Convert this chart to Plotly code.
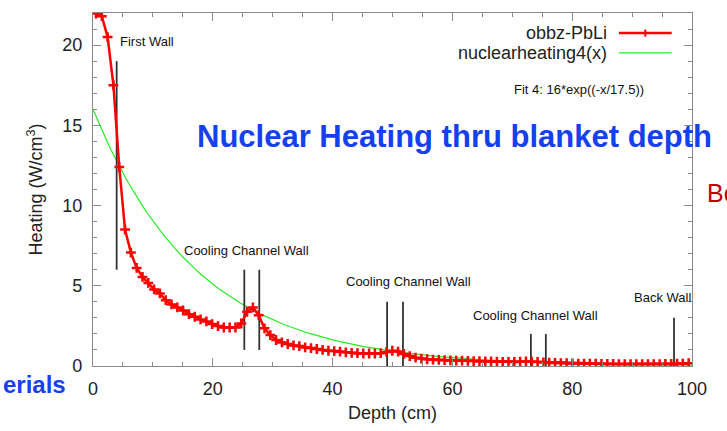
import plotly.graph_objects as go
import math

# ---- data ----
depth_cm = [0.50, 1.47, 2.44, 3.41, 4.38, 5.35, 6.32, 7.29, 8.26, 9.23,
            10.20, 11.17, 12.14, 13.11, 14.08, 15.05, 16.02, 16.99, 17.96, 18.93,
            19.90, 20.87, 21.84, 22.81, 23.78, 24.75, 25.72, 26.69, 27.66, 28.63,
            29.60, 30.57, 31.54, 32.51, 33.48, 34.45, 35.42, 36.39, 37.36, 38.33,
            39.30, 40.27, 41.24, 42.21, 43.18, 44.15, 45.12, 46.09, 47.06, 48.03,
            49.00, 49.97, 50.94, 51.91, 52.88, 53.85, 54.82, 55.79, 56.76, 57.73,
            58.70, 59.67, 60.64, 61.61, 62.58, 63.55, 64.52, 65.49, 66.46, 67.43,
            68.40, 69.37, 70.34, 71.31, 72.28, 73.25, 74.22, 75.19, 76.16, 77.13,
            78.10, 79.07, 80.04, 81.01, 81.98, 82.95, 83.92, 84.89, 85.86, 86.83,
            87.80, 88.77, 89.74, 90.71, 91.68, 92.65, 93.62, 94.59, 95.56, 96.53,
            97.50, 98.47, 99.44]
heating_pbli = [21.97, 21.8, 20.5, 17.5, 12.4, 8.5, 7.07, 6.11, 5.55, 5.18,
                4.77, 4.52, 4.10, 3.84, 3.65, 3.46, 3.23, 3.07, 2.90, 2.78,
                2.61, 2.49, 2.40, 2.40, 2.40, 2.65, 3.38, 3.65, 3.17, 2.35,
                1.93, 1.62, 1.47, 1.37, 1.28, 1.24, 1.16, 1.12, 1.06, 1.00,
                0.95, 0.93, 0.89, 0.85, 0.82, 0.80, 0.78, 0.78, 0.78, 0.80,
                0.88, 0.95, 0.90, 0.75, 0.62, 0.52, 0.46, 0.42, 0.40, 0.38,
                0.36, 0.35, 0.34, 0.33, 0.32, 0.31, 0.30, 0.29, 0.28, 0.27,
                0.26, 0.26, 0.25, 0.27, 0.28, 0.27, 0.25, 0.23, 0.21, 0.19,
                0.18, 0.17, 0.16, 0.15, 0.15, 0.14, 0.14, 0.13, 0.13, 0.13,
                0.12, 0.12, 0.12, 0.12, 0.12, 0.12, 0.12, 0.12, 0.13, 0.13,
                0.14, 0.15, 0.17]

# fit shown in the chart: 16*exp(-x/17.5)
FIT_A = 16.0
FIT_L = 17.5
fit_x = [i * 0.5 for i in range(201)]
fit_y = [FIT_A * math.exp(-x / FIT_L) for x in fit_x]

wall_x = [3.95, 25.26, 27.76, 49.1, 51.75, 73.1, 75.6, 97.0]
wall_bottom = [6.0, 1.0, 1.0, 0.0, 0.0, 0.0, 0.0, 0.0]
wall_top = [19.0, 6.0, 6.0, 4.0, 4.0, 2.0, 2.0, 3.0]

label_text = ["First Wall", "Cooling Channel Wall", "Cooling Channel Wall",
              "Cooling Channel Wall", "Back Wall"]
label_x = [4.2, 25.7, 52.7, 73.8, 95.1]
label_y = [20.2, 7.2, 5.24, 3.17, 4.27]
label_anchor = ["left", "center", "center", "center", "center"]

FONT = "Liberation Sans, Arial, sans-serif"
AXIS_COL = "#8a8a8a"
TXT = "#222222"

fig = go.Figure()

fig.add_trace(go.Scatter(x=fit_x, y=fit_y, mode="lines",
                         line=dict(color="#22ee22", width=1.2),
                         name="nuclearheating4(x)", showlegend=False))

wx, wy = [], []
for x, b, t in zip(wall_x, wall_bottom, wall_top):
    wx += [x, x, None]
    wy += [b, t, None]
fig.add_trace(go.Scatter(x=wx, y=wy, mode="lines",
                         line=dict(color="#333333", width=1.8),
                         showlegend=False, hoverinfo="skip"))

fig.add_trace(go.Scatter(x=depth_cm, y=heating_pbli, mode="lines+markers",
                         line=dict(color="#ff0000", width=2.5),
                         marker=dict(symbol="cross-thin", size=7,
                                     line=dict(color="#ff0000", width=2.5)),
                         name="obbz-PbLi", showlegend=False))

for t, x, y, a in zip(label_text, label_x, label_y, label_anchor):
    fig.add_annotation(x=x, y=y, text=t, showarrow=False, xanchor=a,
                       yanchor="middle", font=dict(family=FONT, size=13, color="#111111"))

# manual legend (text right-aligned, sample on the right, as in gnuplot)
fig.add_annotation(xref="paper", yref="paper", x=0.862, y=0.943, text="obbz-PbLi",
                   showarrow=False, xanchor="right", yanchor="middle",
                   font=dict(family=FONT, size=18, color=TXT))
fig.add_annotation(xref="paper", yref="paper", x=0.862, y=0.887, text="nuclearheating4(x)",
                   showarrow=False, xanchor="right", yanchor="middle",
                   font=dict(family=FONT, size=18, color=TXT))
fig.add_shape(type="line", xref="paper", yref="paper", x0=0.878, x1=0.966, y0=0.943, y1=0.943,
              line=dict(color="#ff0000", width=2.5))
fig.add_shape(type="line", xref="paper", yref="paper", x0=0.922, x1=0.922, y0=0.933, y1=0.953,
              line=dict(color="#ff0000", width=2))
fig.add_shape(type="line", xref="paper", yref="paper", x0=0.878, x1=0.966, y0=0.887, y1=0.887,
              line=dict(color="#22ee22", width=1.2))

fig.add_annotation(xref="paper", yref="paper", x=0.812, y=0.782,
                   text="Fit 4: 16*exp((-x/17.5))", showarrow=False,
                   xanchor="center", yanchor="middle",
                   font=dict(family=FONT, size=13, color="#111111"))

# slide overlay texts
fig.add_annotation(xref="paper", yref="paper", x=0.603, y=0.649,
                   text="<b>Nuclear Heating thru blanket depth</b>", showarrow=False,
                   xanchor="center", yanchor="middle",
                   font=dict(family=FONT, size=31, color="#1440f0"))
fig.add_annotation(xref="paper", yref="paper", x=1.0217, y=0.490, text="Bo",
                   showarrow=False, xanchor="left", yanchor="middle",
                   font=dict(family=FONT, size=25, color="#c00000"))
fig.add_annotation(xref="paper", yref="paper", x=-0.1536, y=-0.0538,
                   text="<b>erials</b>", showarrow=False, xanchor="left", yanchor="middle",
                   font=dict(family=FONT, size=24, color="#1440f0"))

axis_common = dict(showgrid=False, zeroline=False, showline=True, linecolor=AXIS_COL,
                   linewidth=1.2, mirror="ticks", ticks="inside", tickcolor=AXIS_COL,
                   ticklen=8, tickwidth=1.2,
                   tickfont=dict(family=FONT, size=18, color=TXT))

fig.update_xaxes(range=[0, 100], dtick=20, tick0=0,
                 minor=dict(dtick=5, ticks="inside", ticklen=4, tickcolor=AXIS_COL),
                 title=dict(text="Depth (cm)", font=dict(family=FONT, size=18, color=TXT),
                            standoff=8),
                 ticklabelstandoff=6,
                 **axis_common)
fig.update_yaxes(range=[0, 22], dtick=5, tick0=0,
                 minor=dict(dtick=1, ticks="inside", ticklen=4, tickcolor=AXIS_COL),
                 title=dict(text="Heating (W/cm<sup>3</sup>)",
                            font=dict(family=FONT, size=18, color=TXT), standoff=14),
                 ticklabelstandoff=6,
                 **axis_common)

fig.update_layout(width=727, height=431, margin=dict(l=93, r=35, t=13, b=65, autoexpand=False),
                  plot_bgcolor="white", paper_bgcolor="white", showlegend=False)

fig.write_html("out.html")
